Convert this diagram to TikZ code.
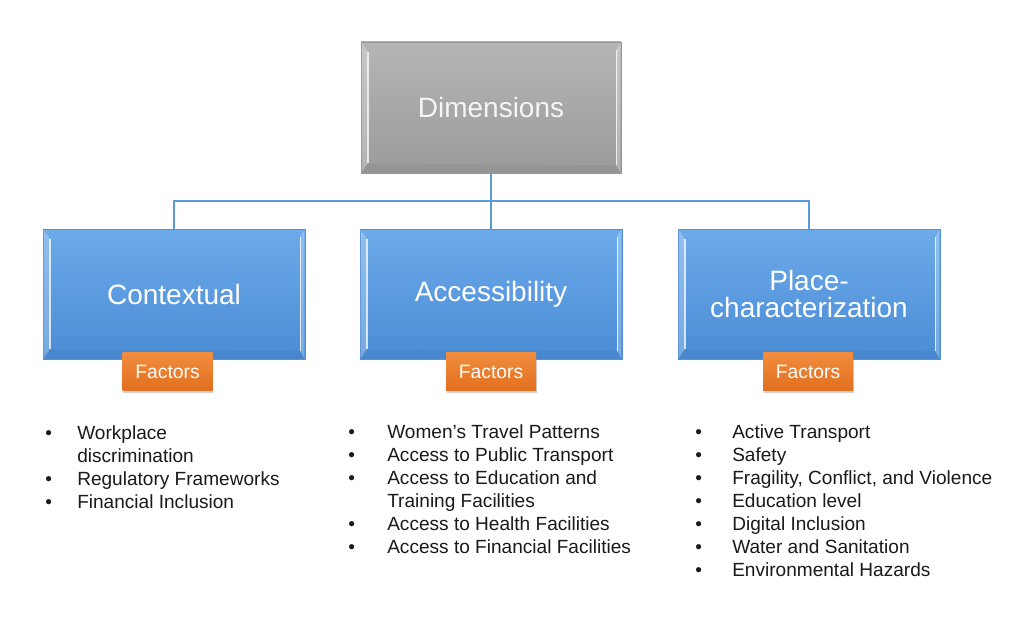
\documentclass[tikz,border=0pt]{standalone}
\usepackage{fontspec}
\setmainfont{Liberation Sans}
\usetikzlibrary{shadows,calc}
\definecolor{bluetop}{HTML}{6DAAE9}
\definecolor{bluebot}{HTML}{4A8CD6}
\definecolor{blueedge}{HTML}{5291D4}
\definecolor{graytop}{HTML}{B5B5B5}
\definecolor{graybot}{HTML}{9B9B9B}
\definecolor{grayedge}{HTML}{959595}
\definecolor{orgtop}{HTML}{F28D3F}
\definecolor{orgbot}{HTML}{E06F1E}
\definecolor{conncol}{HTML}{5B9BD5}
\definecolor{txt}{HTML}{1A1A1A}
\newcommand\bul[1]{\makebox[0pt][r]{\makebox[#1][l]{•}}}
\newcommand\bevel[1]{%
  \fill[white,opacity=0.25] ([shift={(1,1)}]#1.north west) -- ([shift={(7,10)}]#1.north west) -- ([shift={(7,-10)}]#1.south west) -- ([shift={(1,-1)}]#1.south west) -- cycle;
  \draw[white,opacity=0.75,line width=1.5pt] ([shift={(7,10)}]#1.north west) -- ([shift={(7,-10)}]#1.south west);
  \fill[white,opacity=0.25] ([shift={(-1,1)}]#1.north east) -- ([shift={(-5,8)}]#1.north east) -- ([shift={(-5,-8)}]#1.south east) -- ([shift={(-1,-1)}]#1.south east) -- cycle;
  \draw[white,opacity=0.8,line width=1.2pt] ([shift={(-5,8)}]#1.north east) -- ([shift={(-5,-8)}]#1.south east);
  \fill[black,opacity=0.04] ([shift={(1,-1)}]#1.south west) -- ([shift={(7,-10)}]#1.south west) -- ([shift={(-5,-8)}]#1.south east) -- ([shift={(-1,-1)}]#1.south east) -- cycle;
}
\begin{document}
\begin{tikzpicture}[x=0.75pt,y=-0.75pt,
  dimbox/.style={draw=grayedge,line width=0.5pt,top color=graytop,bottom color=graybot,
    minimum width=195pt,minimum height=98.25pt,inner sep=0pt,text=white!96!black,
    font=\fontsize{21}{20.5}\selectfont},
  catbox/.style={draw=blueedge,line width=0.5pt,top color=bluetop,bottom color=bluebot,
    minimum width=196.5pt,minimum height=97.5pt,inner sep=0pt,text=white,align=center,
    font=\fontsize{21}{20.5}\selectfont},
  factbox/.style={top color=orgtop,bottom color=orgbot,minimum width=67.5pt,minimum height=29pt,
    inner sep=0pt,text=white,font=\fontsize{14.5}{17}\selectfont,
    drop shadow={shadow xshift=0.6pt,shadow yshift=-1.8pt,opacity=0.35}},
  conn/.style={draw=conncol,line width=1.1pt},
  item/.style={anchor=base west,inner sep=0pt,text=txt,font=\fontsize{14.3}{17}\selectfont}]
\fill[white] (0,0) rectangle (1010,631);
\useasboundingbox (0,0) rectangle (1010,631);

\node[dimbox] (dim) at (491,107.5) {Dimensions};
\node[catbox] (ctx) at (174,294) {Contextual};
\node[catbox] (acc) at (491,294) {Accessibility};
\node[catbox] (plc) at (809,294) {Place-\\characterization};

\coordinate (bus) at (491,201);
\draw[conn] (dim.south) -- (bus);
\draw[conn] (bus) -| (ctx.north);
\draw[conn] (bus) -| (plc.north);
\draw[conn] (bus) -- (acc.north);

\bevel{dim}
\bevel{ctx}
\bevel{acc}
\bevel{plc}

\node[factbox] (fctx) at (167.5,371.5) {Factors};
\node[factbox] (facc) at (491,371.5) {Factors};
\node[factbox] (fplc) at (808,371.5) {Factors};

\foreach \t/\b [count=\i from 0] in {Workplace/1, discrimination/0, Regulatory Frameworks/1, Financial Inclusion/1}
  \node[item,name=ctxitem\i] at (77,439+23*\i) {\ifnum\b=1 \bul{24pt}\fi\t};

\foreach \t/\b [count=\i from 0] in {Women’s Travel Patterns/1, Access to Public Transport/1, Access to Education and/1, Training Facilities/0, Access to Health Facilities/1, Access to Financial Facilities/1}
  \node[item,name=accitem\i] at (387,438+23*\i) {\ifnum\b=1 \bul{29.25pt}\fi\t};

\foreach \t/\b [count=\i from 0] in {Active Transport/1, Safety/1, {Fragility, Conflict, and Violence}/1, Education level/1, Digital Inclusion/1, Water and Sanitation/1, Environmental Hazards/1}
  \node[item,name=plcitem\i] at (732,438+23*\i) {\ifnum\b=1 \bul{27.75pt}\fi\t};
\end{tikzpicture}
\end{document}
